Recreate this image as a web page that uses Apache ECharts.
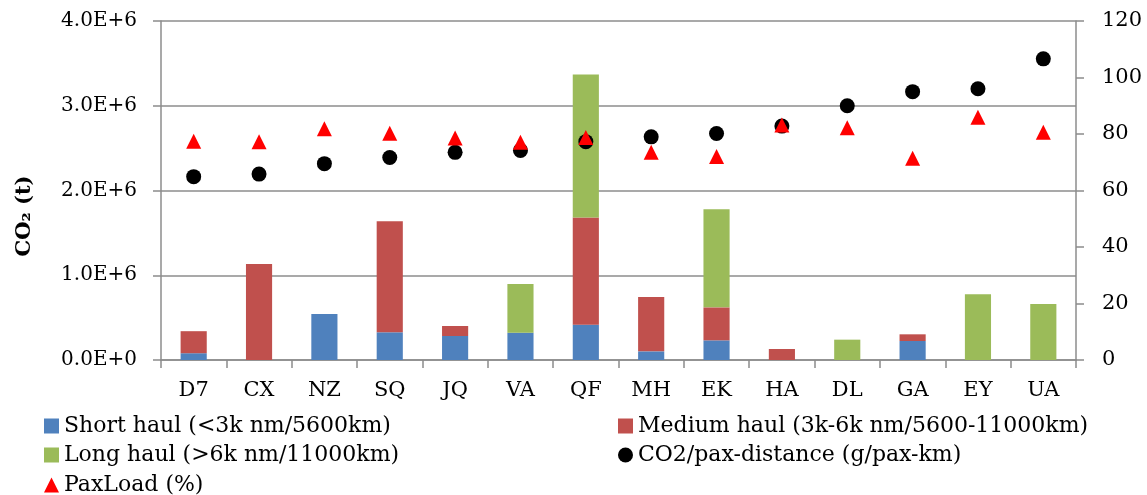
<!DOCTYPE html>
<html>
<head>
<meta charset="utf-8">
<script src="https://cdn.jsdelivr.net/npm/echarts@6/dist/echarts.min.js"></script>
<style>html,body{margin:0;padding:0;background:#fff}#c{width:1147px;height:495px}</style>
</head>
<body>
<div id="c"></div>
<script>
const categories = ['D7','CX','NZ','SQ','JQ','VA','QF','MH','EK','HA','DL','GA','EY','UA'];
const shortHaul  = [0.08e6, 0, 0.543e6, 0.327e6, 0.283e6, 0.322e6, 0.417e6, 0.102e6, 0.232e6, 0, 0, 0.224e6, 0, 0];
const mediumHaul = [0.26e6, 1.133e6, 0, 1.309e6, 0.118e6, 0, 1.263e6, 0.641e6, 0.389e6, 0.13e6, 0, 0.079e6, 0, 0];
const longHaul   = [0, 0, 0, 0, 0, 0.575e6, 1.69e6, 0, 1.157e6, 0, 0.24e6, 0, 0.775e6, 0.661e6];
const co2PerPax  = [64.9, 65.8, 69.5, 71.7, 73.5, 74.2, 77.3, 79.0, 80.2, 82.8, 90.0, 95.0, 96.0, 106.6];
const paxLoad    = [77.4, 77.3, 81.9, 80.3, 78.6, 77.1, 78.8, 73.5, 72.0, 83.2, 82.2, 71.4, 85.9, 80.6];
const leftTickLabels = ['0.0E+0','1.0E+6','2.0E+6','3.0E+6','4.0E+6'];
const rightTickLabels = ['0','20','40','60','80','100','120'];

const names = {
  s: 'Short haul (<3k nm/5600km)',
  m: 'Medium haul (3k-6k nm/5600-11000km)',
  l: 'Long haul (>6k nm/11000km)',
  c: 'CO2/pax-distance (g/pax-km)',
  p: 'PaxLoad (%)'
};

const FONT = 'DejaVu Serif';
const gridColor = '#8c8c8c';
const chart = echarts.init(document.getElementById('c'), null, {renderer: 'canvas'});
const legendText = {fontFamily: FONT, fontSize: 22, color: '#000'};

function leg(name, icon, left, top) {
  return {left: left, top: top, orient: 'horizontal', itemGap: 0, itemWidth: 15, itemHeight: 15,
    textStyle: legendText, padding: 0, data: [{name: name, icon: icon}]};
}

chart.setOption({
  animation: false,
  textStyle: {fontFamily: FONT},
  grid: {left: 161, right: 71, top: 21, bottom: 135, containLabel: false},
  xAxis: {
    type: 'category',
    data: categories,
    axisLine: {lineStyle: {color: gridColor, width: 1.5}},
    axisTick: {show: true, length: 8, lineStyle: {color: gridColor, width: 1.5}},
    axisLabel: {fontFamily: FONT, fontSize: 21, color: '#000', margin: 20}
  },
  yAxis: [{
    type: 'value', min: 0, max: 4e6, interval: 1e6, position: 'left',
    axisLine: {show: true, lineStyle: {color: gridColor, width: 1.5}},
    axisTick: {show: true, length: 8, lineStyle: {color: gridColor, width: 1.5}},
    splitLine: {show: true, lineStyle: {color: gridColor, width: 1.5}},
    axisLabel: {fontFamily: FONT, fontSize: 20, color: '#000', margin: 24,
      formatter: v => leftTickLabels[Math.round(v / 1e6)]}
  }, {
    type: 'value', min: 0, max: 120, interval: 20, position: 'right',
    axisLine: {show: true, lineStyle: {color: gridColor, width: 1.5}},
    axisTick: {show: true, length: 8, lineStyle: {color: gridColor, width: 1.5}},
    splitLine: {show: false},
    axisLabel: {fontFamily: FONT, fontSize: 21, color: '#000', margin: 26,
      formatter: v => rightTickLabels[Math.round(v / 20)]}
  }],
  legend: [
    leg(names.s, 'rect', 44, 415),
    leg(names.l, 'rect', 44, 444),
    leg(names.p, 'triangle', 44, 474),
    leg(names.m, 'rect', 618, 415),
    leg(names.c, 'circle', 618, 444)
  ],
  graphic: [{
    type: 'text', x: 25, y: 216, rotation: Math.PI / 2,
    style: {text: 'CO₂ (t)', fontFamily: FONT, fontSize: 21, fontWeight: 'bold', fill: '#000',
      align: 'center', verticalAlign: 'middle'}
  }],
  series: [
    {name: names.s, type: 'bar', stack: 't', data: shortHaul, barCategoryGap: '60%',
      itemStyle: {color: '#4F81BD'}},
    {name: names.m, type: 'bar', stack: 't', data: mediumHaul,
      itemStyle: {color: '#C0504D'}},
    {name: names.l, type: 'bar', stack: 't', data: longHaul,
      itemStyle: {color: '#9BBB59'}},
    {name: names.c, type: 'scatter', yAxisIndex: 1, data: co2PerPax, symbol: 'circle', symbolSize: 15,
      itemStyle: {color: '#000', opacity: 1}},
    {name: names.p, type: 'scatter', yAxisIndex: 1, data: paxLoad, symbol: 'triangle', symbolSize: 15,
      itemStyle: {color: '#FF0000', opacity: 1}}
  ]
});
</script>
</body>
</html>
